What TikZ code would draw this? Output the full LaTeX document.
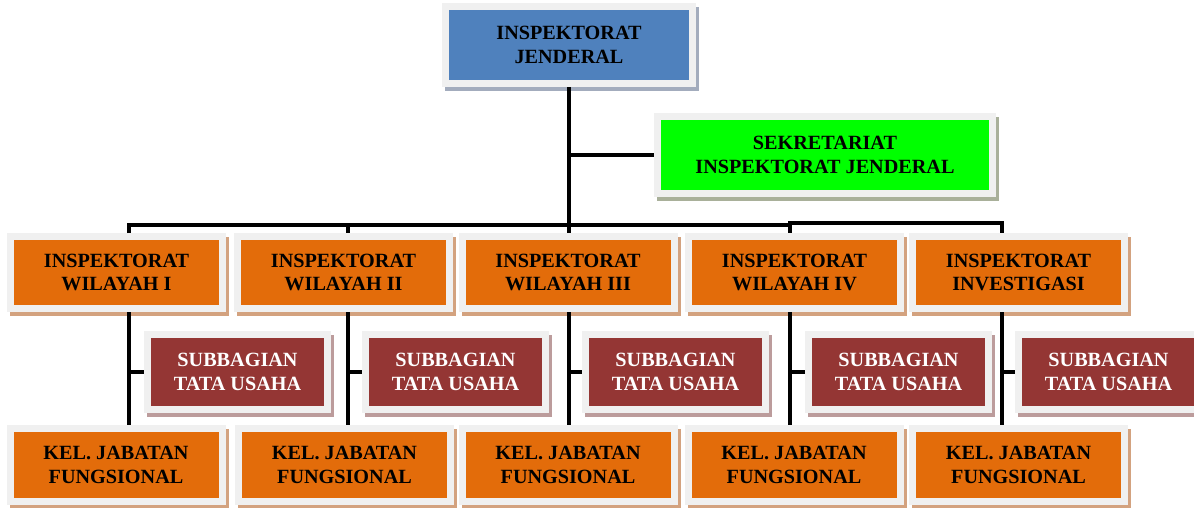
\documentclass[tikz,border=0pt]{standalone}
\usepackage{fontspec}
\setmainfont{Liberation Serif}
\definecolor{framegray}{HTML}{F0F0F0}
\definecolor{chiefblue}{HTML}{4F81BD}
\definecolor{chiefshadow}{HTML}{A3ACBD}
\definecolor{sekgreen}{HTML}{00FF00}
\definecolor{sekshadow}{HTML}{A9B09A}
\definecolor{irorange}{HTML}{E36C0A}
\definecolor{irshadow}{HTML}{D3A27F}
\definecolor{tured}{HTML}{943634}
\definecolor{tushadow}{HTML}{BC9C9C}
\newcommand{\boxfont}{\fontsize{20.2}{23.5}\selectfont\bfseries}
\tikzset{
  orgbox/.style={draw=framegray, line width=7pt, inner sep=0pt, outer sep=3.5pt,
    align=center, font=\boxfont},
  boxshadow/.style={preaction={draw=#1, fill=#1, line width=7pt,
    transform canvas={xshift=3pt, yshift=-4pt}}},
  chiefbox/.style={orgbox, fill=chiefblue, boxshadow=chiefshadow,
    minimum width=247pt, minimum height=77pt},
  sekbox/.style={orgbox, fill=sekgreen, boxshadow=sekshadow,
    minimum width=335pt, minimum height=77pt},
  irbox/.style={orgbox, fill=irorange, boxshadow=irshadow,
    minimum width=212pt, minimum height=72pt},
  tubox/.style={orgbox, fill=tured, boxshadow=tushadow, text=white,
    minimum width=180pt, minimum height=75pt},
  jfbox/.style={orgbox, fill=irorange, boxshadow=irshadow,
    minimum width=212pt, minimum height=73pt},
  conn/.style={black, line width=3.5pt},
}

\begin{document}
\begin{tikzpicture}[x=1pt,y=-1pt]
    \useasboundingbox (0,0) rectangle (1194,507);
    % First, locate each of the boxes and name them
    \node[chiefbox] (ij) at (569,45) {INSPEKTORAT\\JENDERAL};
    \node[sekbox] (sek) at (825,155) {SEKRETARIAT\\INSPEKTORAT JENDERAL};
    \node[irbox] (w1) at (116.5,272.5) {INSPEKTORAT\\WILAYAH I};
    \node[irbox] (w2) at (343.5,272.5) {INSPEKTORAT\\WILAYAH II};
    \node[irbox] (w3) at (568,272.5) {INSPEKTORAT\\WILAYAH III};
    \node[irbox] (w4) at (794.5,272.5) {INSPEKTORAT\\WILAYAH IV};
    \node[irbox] (w5) at (1018.5,272.5) {INSPEKTORAT\\INVESTIGASI};
    \node[tubox] (s1) at (237.5,372) {SUBBAGIAN\\TATA USAHA};
    \node[tubox] (s2) at (455.5,372) {SUBBAGIAN\\TATA USAHA};
    \node[tubox] (s3) at (675.5,372) {SUBBAGIAN\\TATA USAHA};
    \node[tubox] (s4) at (898.5,372) {SUBBAGIAN\\TATA USAHA};
    \node[tubox] (s5) at (1108.5,372) {SUBBAGIAN\\TATA USAHA};
    \node[jfbox] (k1) at (116,465) {KEL. JABATAN\\FUNGSIONAL};
    \node[jfbox] (k2) at (344.5,465) {KEL. JABATAN\\FUNGSIONAL};
    \node[jfbox] (k3) at (568,465) {KEL. JABATAN\\FUNGSIONAL};
    \node[jfbox] (k4) at (794,465) {KEL. JABATAN\\FUNGSIONAL};
    \node[jfbox] (k5) at (1018.5,465) {KEL. JABATAN\\FUNGSIONAL};
    % Points where the lines turn
    \coordinate (bus) at (569,225);
    \coordinate (jsek) at (569,155);
    \coordinate (d1) at (129,225);
    \coordinate (d2) at (348,225);
    \coordinate (d4) at (790,225);
    \coordinate (d4r) at (788.3,223);
    \coordinate (d5) at (1002,223);
    % Now draw the lines
    \draw[conn] (ij.south) -- (bus);
    \draw[conn] (jsek) -- (sek.west);
    \draw[conn] (d1 |- w1.north) -- (d1) -- (d4) -- (d4 |- w4.north);
    \draw[conn] (d4r) -- (d5) -- (d5 |- w5.north);
    \draw[conn] (d2) -- (d2 |- w2.north);
    \draw[conn] (bus) -- (bus |- w3.north);
    \draw[conn] (d1 |- w1.south) -- (d1 |- k1.north);
    \draw[conn] (d2 |- w2.south) -- (d2 |- k2.north);
    \draw[conn] (bus |- w3.south) -- (bus |- k3.north);
    \draw[conn] (d4 |- w4.south) -- (d4 |- k4.north);
    \draw[conn] (d5 |- w5.south) -- (d5 |- k5.north);
    \draw[conn] (d1 |- s1.west) -- (s1.west);
    \draw[conn] (d2 |- s2.west) -- (s2.west);
    \draw[conn] (bus |- s3.west) -- (s3.west);
    \draw[conn] (d4 |- s4.west) -- (s4.west);
    \draw[conn] (d5 |- s5.west) -- (s5.west);
\end{tikzpicture}
\end{document}
